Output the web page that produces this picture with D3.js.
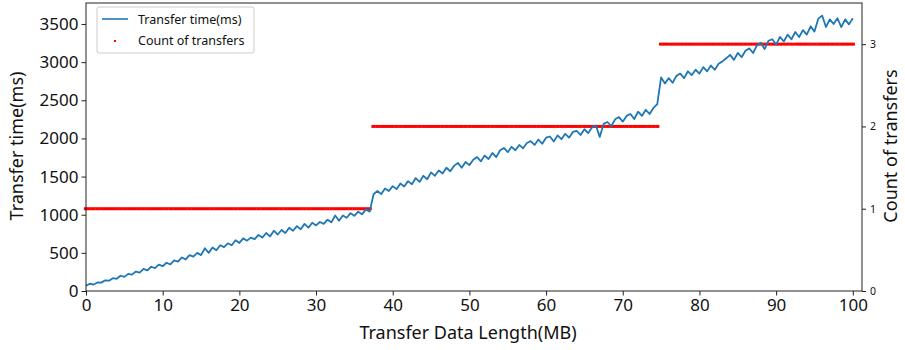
<!DOCTYPE html>
<html>
<head>
<meta charset="utf-8">
<script src="https://cdn.jsdelivr.net/npm/d3@7"></script>
<style>
  body { margin: 0; background: #fff; }
  svg { display: block; font-family: "Noto Sans", "Open Sans", sans-serif; }
</style>
</head>
<body>
<div id="chart"></div>
<script>
// transfer time (ms), one sample every 0.5 MB from 0 to 100
const stepMB = 0.5;
const transferTime = [
  68, 95, 85, 112, 110, 140, 135, 168, 160, 200,
  185, 225, 215, 255, 240, 290, 270, 318, 300, 345,
  325, 370, 350, 400, 385, 440, 415, 470, 450, 500,
  470, 560, 500, 570, 535, 600, 575, 625, 600, 665,
  630, 690, 660, 700, 680, 735, 700, 760, 715, 790,
  740, 800, 760, 830, 790, 850, 810, 880, 830, 895,
  860, 905, 880, 935, 900, 990, 920, 990, 960, 1020,
  985, 1040, 1005, 1070, 1040, 1268, 1310, 1270, 1345, 1310,
  1375, 1335, 1410, 1370, 1440, 1400, 1480, 1430, 1510, 1465,
  1555, 1510, 1580, 1540, 1615, 1570, 1640, 1680, 1615, 1690,
  1650, 1720, 1755, 1700, 1775, 1730, 1810, 1755, 1845, 1875,
  1820, 1890, 1845, 1915, 1870, 1940, 1965, 1915, 1985, 1930,
  2010, 2025, 1960, 2040, 1990, 2060, 2010, 2085, 2100, 2045,
  2120, 2070, 2145, 2170, 2020, 2190, 2215, 2160, 2250, 2280,
  2220, 2295, 2320, 2255, 2350, 2295, 2375, 2320, 2400, 2450,
  2800, 2720, 2790, 2730, 2820, 2850, 2790, 2880, 2830, 2900,
  2850, 2935, 2880, 2955, 2900, 2980, 3010, 3050, 3095, 3030,
  3120, 3065, 3150, 3180, 3120, 3220, 3255, 3170, 3280, 3300,
  3230, 3330, 3270, 3360, 3300, 3395, 3330, 3420, 3360, 3470,
  3400, 3570, 3610, 3460, 3560, 3500, 3575, 3460, 3560, 3495,
  3575
];

// count of transfers at the same samples
const transferCount = [
  1, 1, 1, 1, 1, 1, 1, 1, 1, 1, 1, 1, 1, 1, 1, 1, 1, 1, 1, 1,
  1, 1, 1, 1, 1, 1, 1, 1, 1, 1, 1, 1, 1, 1, 1, 1, 1, 1, 1, 1,
  1, 1, 1, 1, 1, 1, 1, 1, 1, 1, 1, 1, 1, 1, 1, 1, 1, 1, 1, 1,
  1, 1, 1, 1, 1, 1, 1, 1, 1, 1, 1, 1, 1, 1, 1,
  2, 2, 2, 2, 2, 2, 2, 2, 2, 2, 2, 2, 2, 2, 2, 2, 2, 2, 2, 2,
  2, 2, 2, 2, 2, 2, 2, 2, 2, 2, 2, 2, 2, 2, 2, 2, 2, 2, 2, 2,
  2, 2, 2, 2, 2, 2, 2, 2, 2, 2, 2, 2, 2, 2, 2, 2, 2, 2, 2, 2,
  2, 2, 2, 2, 2, 2, 2, 2, 2, 2, 2, 2, 2, 2, 2,
  3, 3, 3, 3, 3, 3, 3, 3, 3, 3, 3, 3, 3, 3, 3, 3, 3, 3, 3, 3,
  3, 3, 3, 3, 3, 3, 3, 3, 3, 3, 3, 3, 3, 3, 3, 3, 3, 3, 3, 3,
  3, 3, 3, 3, 3, 3, 3, 3, 3, 3, 3
];

const xTicks = [0, 10, 20, 30, 40, 50, 60, 70, 80, 90, 100];
const yTicks = [0, 500, 1000, 1500, 2000, 2500, 3000, 3500];
const countTicks = [0, 1, 2, 3];

const width = 905, height = 350;
const margin = {top: 3, right: 43, bottom: 59, left: 86};

const svg = d3.select('#chart').append('svg')
    .attr('width', width)
    .attr('height', height);

const x = d3.scaleLinear().domain([0, 101.2]).range([margin.left, width - margin.right]);
const y = d3.scaleLinear().domain([0, 3775]).range([height - margin.bottom, margin.top]);
const yCount = d3.scaleLinear().domain([0, 3.5]).range([height - margin.bottom, margin.top]);

const timeData = transferTime.map((v, i) => ({mb: i * stepMB, ms: v}));
const countData = transferCount.map((v, i) => ({mb: i * stepMB, n: v}));

// count of transfers (red dots)
svg.append('g')
    .selectAll('rect')
    .data(countData)
    .join('rect')
    .attr('x', d => x(d.mb) - 2.1)
    .attr('y', d => yCount(d.n) - 1.5)
    .attr('width', 4.2)
    .attr('height', 3)
    .attr('fill', '#ff0000');

// transfer time line
const line = d3.line()
    .x(d => x(d.mb))
    .y(d => y(d.ms));

svg.append('path')
    .datum(timeData)
    .attr('fill', 'none')
    .attr('stroke', '#1f77b4')
    .attr('stroke-width', 1.8)
    .attr('stroke-linejoin', 'round')
    .attr('d', line);

// frame
svg.append('rect')
    .attr('x', margin.left)
    .attr('y', margin.top)
    .attr('width', width - margin.right - margin.left)
    .attr('height', height - margin.bottom - margin.top)
    .attr('fill', 'none')
    .attr('stroke', '#222')
    .attr('stroke-width', 1);

// axes
const fmt = d3.format('d');
const xAxis = svg.append('g')
    .attr('transform', `translate(0,${height - margin.bottom})`)
    .call(d3.axisBottom(x).tickValues(xTicks).tickFormat(fmt).tickSize(4.5).tickPadding(3));

const yAxis = svg.append('g')
    .attr('transform', `translate(${margin.left},0)`)
    .call(d3.axisLeft(y).tickValues(yTicks).tickFormat(fmt).tickSize(4.5).tickPadding(3));

const rAxis = svg.append('g')
    .attr('transform', `translate(${width - margin.right},0)`)
    .call(d3.axisRight(yCount).tickValues(countTicks).tickFormat(fmt).tickSize(4).tickPadding(4));

[xAxis, yAxis, rAxis].forEach(g => {
    g.select('.domain').remove();
    g.selectAll('line').attr('stroke', '#222');
    g.selectAll('text').attr('fill', '#111').attr('font-family', '"Noto Sans", sans-serif');
});
xAxis.selectAll('text').attr('font-size', 17);
yAxis.selectAll('text').attr('font-size', 17);
rAxis.selectAll('text').attr('font-size', 10.5);

// axis titles
svg.append('text')
    .attr('x', (margin.left + width - margin.right) / 2 - 6)
    .attr('y', 339)
    .attr('text-anchor', 'middle')
    .attr('font-size', 18)
    .attr('fill', '#111')
    .text('Transfer Data Length(MB)');

svg.append('text')
    .attr('transform', 'translate(23,146) rotate(-90)')
    .attr('text-anchor', 'middle')
    .attr('font-size', 18)
    .attr('fill', '#111')
    .text('Transfer time(ms)');

svg.append('text')
    .attr('transform', 'translate(897,146) rotate(-90)')
    .attr('text-anchor', 'middle')
    .attr('font-size', 18)
    .attr('fill', '#111')
    .text('Count of transfers');

// legend
const legend = svg.append('g').attr('transform', 'translate(97,7)');
legend.append('rect')
    .attr('width', 157)
    .attr('height', 46)
    .attr('rx', 2)
    .attr('fill', '#fff')
    .attr('stroke', '#ccc');
legend.append('line')
    .attr('x1', 5).attr('x2', 31)
    .attr('y1', 12).attr('y2', 12)
    .attr('stroke', '#1f77b4')
    .attr('stroke-width', 1.6);
legend.append('rect')
    .attr('x', 17).attr('y', 33)
    .attr('width', 2).attr('height', 2)
    .attr('fill', '#ff0000');
legend.append('text')
    .attr('x', 41).attr('y', 16.5)
    .attr('font-size', 12.5)
    .attr('fill', '#111')
    .text('Transfer time(ms)');
legend.append('text')
    .attr('x', 41).attr('y', 37.5)
    .attr('font-size', 12.5)
    .attr('fill', '#111')
    .text('Count of transfers');
</script>
</body>
</html>
